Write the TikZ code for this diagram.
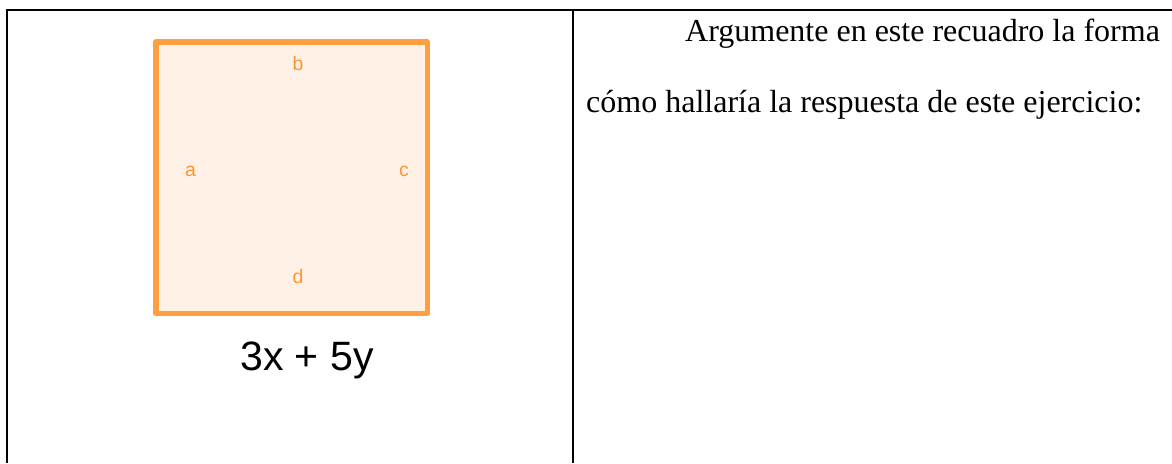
\documentclass[tikz,border=0pt]{standalone}
\usepackage{fontspec}
\setmainfont{Liberation Serif}
\setsansfont{Liberation Sans}
\definecolor{sqline}{HTML}{FFA040}
\definecolor{sqfill}{HTML}{FFF1E6}
\definecolor{sqlabel}{HTML}{FF9530}
\begin{document}
\begin{tikzpicture}[x=1pt,y=-1pt,
  tableline/.style={line width=2.6pt,black},
  sideline/.style={line width=5.6pt,sqline,line cap=round,line join=round},
  sidelabel/.style={text=sqlabel,font=\sffamily\fontsize{19.5}{21}\selectfont,inner sep=0pt},
  bodytext/.style={font=\fontsize{32}{36}\selectfont,inner sep=0pt,anchor=base west}]
\useasboundingbox (0,0) rectangle (1172,463);
% table lines
\coordinate (tl) at (7,10);
\coordinate (tr) at (1172,10);
\coordinate (bl) at (7,463);
\coordinate (mt) at (573,10);
\coordinate (mb) at (573,463);
\draw[tableline] (tr) -- (tl) -- (bl);
\draw[tableline] (mt) -- (mb);
% square
\coordinate (A) at (155.7,42);
\coordinate (B) at (427.3,42);
\coordinate (C) at (427.3,313.3);
\coordinate (D) at (155.7,313.3);
\fill[sqfill] (A) rectangle (C);
\draw[sideline] (A) -- (B) -- (C) -- (D) -- cycle;
\node[sidelabel] (lb) at (298,64) {b};
\node[sidelabel] (la) at (190.5,171.5) {a};
\node[sidelabel] (lc) at (404,171.5) {c};
\node[sidelabel] (ld) at (298,277) {d};
\node[font=\sffamily\fontsize{41}{44}\selectfont,inner sep=0pt,anchor=base] (expr) at (307,370) {3x + 5y};
% text
\node[bodytext] (t1) at (685,41) {Argumente en este recuadro la forma};
\node[bodytext] (t2) at (586,112) {cómo hallaría la respuesta de este ejercicio:};
\end{tikzpicture}
\end{document}
